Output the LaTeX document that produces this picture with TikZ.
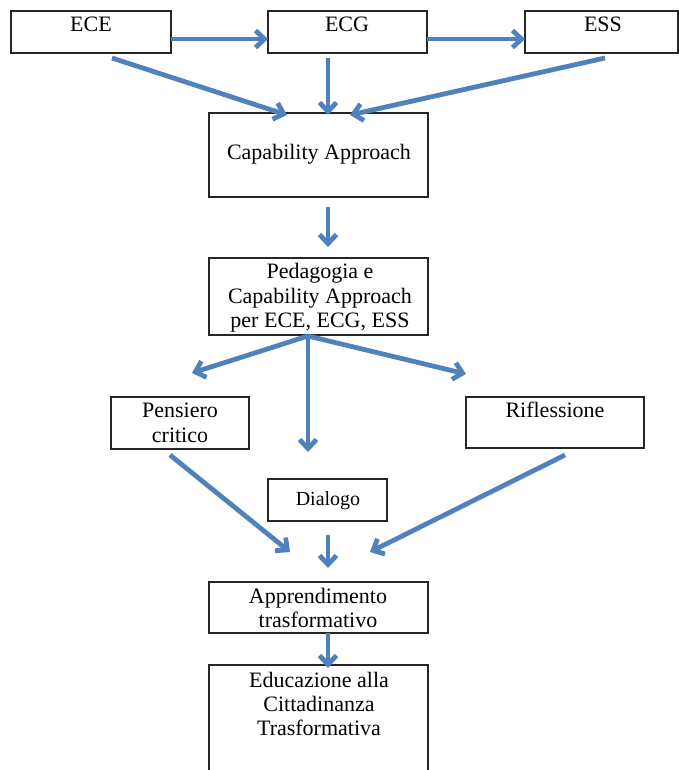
\documentclass[tikz,border=0pt]{standalone}
\usepackage{fontspec}
\setmainfont{Liberation Serif}
\usetikzlibrary{arrows.meta}
\definecolor{arrowblue}{RGB}{79,129,189}
\begin{document}
\begin{tikzpicture}[x=1pt,y=-1pt,
  box/.style={draw=black!85, line width=1.2pt, rectangle, inner sep=0pt, outer sep=0pt, anchor=north west},
  lbl/.style={inner sep=0pt, font=\fontsize{22}{24.5}\selectfont, anchor=base},
  small/.style={inner sep=0pt, font=\fontsize{20}{22}\selectfont, anchor=base},
  arr/.style={draw=arrowblue, line width=4.8pt, -{Straight Barb[length=9pt,width=17pt]}}]
\useasboundingbox (0,0) rectangle (679,770);
\clip (0,0) rectangle (679,770);
% boxes
\node[box, minimum width=160pt, minimum height=42pt] (ece) at (11,11) {};
\node[box, minimum width=159pt, minimum height=42pt] (ecg) at (268,11) {};
\node[box, minimum width=153pt, minimum height=42pt] (ess) at (525,11) {};
\node[box, minimum width=219pt, minimum height=84pt] (cap) at (209,113) {};
\node[box, minimum width=219pt, minimum height=77pt] (ped) at (209,258) {};
\node[box, minimum width=138pt, minimum height=52pt] (pen) at (111,397) {};
\node[box, minimum width=178pt, minimum height=51pt] (rif) at (466,397) {};
\node[box, minimum width=119pt, minimum height=42pt] (dia) at (268,479) {};
\node[box, minimum width=219pt, minimum height=51pt] (app) at (209,582) {};
\node[box, minimum width=219pt, minimum height=108pt] (edu) at (209,665) {};
% texts
\node[lbl] (tece) at (91,32) {ECE};
\node[lbl] (tecg) at (347,32) {ECG};
\node[lbl] (tess) at (603,32) {ESS};
\node[lbl] (tcap) at (319,160) {Capability Approach};
\node[lbl] (tped1) at (320,278) {Pedagogia e};
\node[lbl] (tped2) at (320,303) {Capability Approach};
\node[lbl] (tped3) at (320,327) {per ECE, ECG, ESS};
\node[lbl] (tpen1) at (180,417) {Pensiero};
\node[lbl] (tpen2) at (180,442) {critico};
\node[lbl] (trif) at (555,417) {Riflessione};
\node[small] (tdia) at (328,505) {Dialogo};
\node[lbl] (tapp1) at (318,603) {Apprendimento};
\node[lbl] (tapp2) at (318,627) {trasformativo};
\node[lbl] (tedu1) at (319,687) {Educazione alla};
\node[lbl] (tedu2) at (319,711) {Cittadinanza};
\node[lbl] (tedu3) at (319,735) {Trasformativa};
% connectors
\draw[arr] ([shift={(0,7)}]ece.east) -- ([shift={(0,7)}]ecg.west);
\draw[arr] ([shift={(0,7)}]ecg.east) -- ([shift={(0,7)}]ess.west);
\draw[arr] ([shift={(101,5)}]ece.south west) -- ([shift={(78,2)}]cap.north west);
\draw[arr] ([shift={(60,5)}]ecg.south west) -- ([shift={(119,2)}]cap.north west);
\draw[arr] ([shift={(80,5)}]ess.south west) -- ([shift={(141,2)}]cap.north west);
\draw[arr] ([shift={(119,10)}]cap.south west) -- ([shift={(119,-11)}]ped.north west);
\draw[arr] ([shift={(99,1)}]ped.south west) -- ([shift={(81,-24)}]pen.north west);
\draw[arr] ([shift={(99,1)}]ped.south west) -- ([shift={(40,-27)}]dia.north west);
\draw[arr] ([shift={(99,1)}]ped.south west) -- ([shift={(0,-23)}]rif.north west);
\draw[arr] ([shift={(59,6)}]pen.south west) -- ([shift={(81,-30)}]app.north west);
\draw[arr] ([shift={(60,14)}]dia.south west) -- ([shift={(119,-14)}]app.north west);
\draw[arr] ([shift={(99,7)}]rif.south west) -- ([shift={(161,-30)}]app.north west);
\draw[arr] ([shift={(119,0)}]app.south west) -- ([shift={(119,3)}]edu.north west);
\end{tikzpicture}
\end{document}
